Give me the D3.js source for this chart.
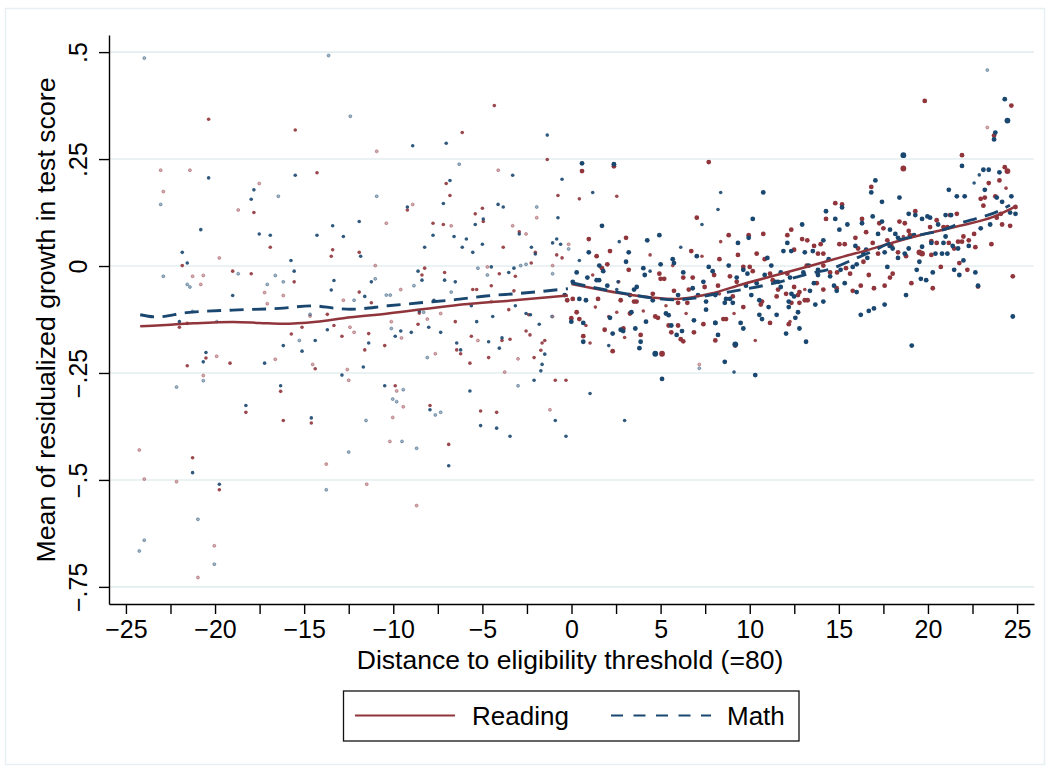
<!DOCTYPE html>
<html>
<head>
<meta charset="utf-8">
<script src="https://cdn.jsdelivr.net/npm/d3@7"></script>
<style>
  html, body { margin: 0; padding: 0; background: #ffffff; }
  svg { display: block; }
  text { font-family: "Liberation Sans", Arial, Helvetica, sans-serif; fill: #000; }
</style>
</head>
<body>
<svg id="chart" width="1050" height="771"></svg>
<script>
// Binned means of residualized test-score growth by distance to the eligibility cutoff.
// Each entry: [distance, mean residualized growth, bin weight (1 = few students ... 4 = many)]
const readingPts = [
  [-20.36,0.343,2],[-15.5,0.318,2],[-23.05,0.224,1],[-21.41,0.224,1],[-14.28,0.218,2],[-22.9,0.174,1],
  [-17.52,0.193,1],[-18.7,0.131,1],[-17.82,0.125,2],[-16.9,0.044,2],[-13.4,0.038,2],[-13.48,0.023,2],
  [-19.76,0.019,1],[-21.84,0.001,2],[-21.26,-0.024,1],[-20.66,-0.022,1],[-20.8,-0.043,1],[-19.01,-0.012,2],
  [-17.97,-0.018,2],[-15.56,-0.037,2],[-17.22,-0.062,1],[-16.17,-0.069,1],[-17.07,-0.088,1],[-14.67,-0.117,1],
  [-13.7,-0.113,2],[-22.0,-0.143,2],[-21.56,-0.134,2],[-15.12,-0.143,2],[-13.33,-0.139,2],[-15.72,-0.159,2],
  [-20.51,-0.215,2],[-19.91,-0.211,1],[-21.56,-0.233,2],[-19.16,-0.227,2],[-16.62,-0.218,1],[-14.52,-0.230,1],
  [-14.38,-0.240,2],[-20.66,-0.256,1],[-16.32,-0.293,2],[-18.27,-0.342,2],[-16.17,-0.361,2],[-14.6,-0.367,2],
  [-24.25,-0.430,1],[-21.26,-0.448,2],[-13.76,-0.463,1],[-23.97,-0.498,1],[-22.16,-0.504,1],[-19.76,-0.523,2],
  [-20.04,-0.654,1],[-20.96,-0.728,1],
  [-4.33,0.375,2],[-6.13,0.312,2],[-10.93,0.268,1],[-1.36,0.249,2],[-4.11,0.224,1],[-7.03,0.193,2],
  [-6.82,0.165,2],[-0.76,0.165,2],[-9.21,0.131,2],[-8.91,0.144,1],[-1.95,0.113,1],[-10.39,0.100,1],
  [-7.77,0.100,2],[-7.19,0.097,2],[-6.75,0.094,1],[-5.4,0.122,2],[-5.0,0.135,2],[-4.95,0.104,2],
  [-3.3,0.094,1],[-11.91,0.032,2],[-2.93,0.080,2],[-2.55,0.075,1],[-3.83,0.044,2],[-2.03,0.032,2],
  [-0.83,0.026,2],[-0.53,0.019,2],[-0.16,0.051,1],[-11.01,0.001,1],[-11.23,-0.086,2],[-12.8,-0.080,1],
  [-11.91,-0.061,2],[-9.58,-0.055,1],[-8.39,-0.021,2],[-8.24,-0.005,2],[-7.12,-0.015,2],[-5.54,-0.055,2],
  [-5.32,-0.055,2],[-4.72,-0.002,1],[-4.5,-0.046,2],[-4.05,-0.018,2],[-3.15,-0.024,2],[-3.23,-0.058,2],
  [-2.26,0.007,2],[-1.06,0.001,1],[-8.54,-0.110,2],[-8.09,-0.124,1],[-7.34,-0.111,1],[-8.61,-0.136,2],
  [-10.11,-0.130,1],[-9.54,-0.168,1],[-10.48,-0.186,2],[-11.38,-0.158,2],[-11.6,-0.196,2],[-12.88,-0.164,2],
  [-12.43,-0.143,1],[-12.2,-0.155,1],[-12.58,-0.242,1],[-12.5,-0.267,1],[-6.52,-0.130,2],[-6.44,-0.196,2],
  [-6.22,-0.205,2],[-7.64,-0.205,1],[-5.62,-0.164,2],[-5.25,-0.174,1],[-4.65,-0.214,2],[-4.5,-0.083,1],
  [-3.9,-0.174,2],[-3.45,-0.171,2],[-5.7,-0.227,2],[-3.75,-0.248,1],[-3.0,-0.217,1],[-3.52,-0.102,2],
  [-2.4,-0.114,2],[-2.55,-0.152,2],[-2.33,-0.161,2],[-2.1,-0.214,2],[-1.5,-0.174,2],[-1.65,-0.180,2],
  [-1.72,-0.197,2],[-1.06,-0.118,1],[-0.91,-0.267,2],[-0.31,-0.267,2],[-9.89,-0.280,2],[-9.81,-0.292,1],
  [-9.44,-0.329,1],[-10.03,-0.354,1],[-7.94,-0.326,2],[-5.1,-0.339,2],[-4.2,-0.342,2],[-1.21,-0.336,1],
  [-10.19,-0.410,1],[-6.89,-0.417,2],[-11.49,-0.510,1],[-8.69,-0.560,1],
  [0.59,0.222,3],[2.38,0.233,3],[7.7,0.243,3],[0.44,0.157,2],[2.54,0.163,2],[7.03,0.113,3],
  [0.97,0.063,3],[3.06,0.066,3],[6.72,0.035,3],[7.32,0.023,2],[2.16,0.035,3],[4.41,0.026,2],
  [1.41,0.023,3],[2.01,0.004,3],[5.68,0.001,2],[8.3,0.016,3],[1.71,-0.005,3],[3.21,-0.009,3],
  [4.93,-0.018,3],[5.0,-0.030,3],[5.2,-0.030,3],[6.27,-0.027,3],[6.8,-0.027,3],[8.0,-0.021,3],
  [1.19,-0.021,2],[2.65,-0.037,2],[-0.24,-0.080,3],[0.07,-0.077,3],[1.49,-0.077,3],[1.34,-0.096,2],
  [2.76,-0.080,3],[3.51,-0.083,3],[3.65,-0.083,3],[4.56,-0.065,3],[5.3,-0.093,2],[5.75,-0.058,3],
  [5.98,-0.086,3],[6.58,-0.055,3],[6.5,-0.086,3],[7.47,-0.049,3],[8.22,-0.046,3],[-0.01,-0.122,3],
  [0.29,-0.108,3],[0.44,-0.124,3],[0.81,-0.139,2],[2.09,-0.118,2],[1.86,-0.149,3],[2.54,-0.108,2],
  [2.91,-0.146,3],[2.98,-0.167,2],[3.28,-0.111,3],[3.88,-0.161,3],[4.03,-0.105,2],[4.7,-0.118,3],
  [4.85,-0.121,3],[5.45,-0.139,3],[5.98,-0.139,3],[6.13,-0.171,3],[6.27,-0.176,3],[5.6,-0.155,3],
  [6.43,-0.111,2],[6.87,-0.155,3],[7.4,-0.136,3],[8.07,-0.174,3],[0.66,-0.164,3],[1.04,-0.180,2],
  [2.31,-0.199,3],[5.08,-0.205,4],[7.17,-0.230,1],
  [8.82,0.072,3],[8.37,0.057,2],[9.94,0.072,3],[10.76,0.075,3],[9.34,0.026,3],[10.39,0.029,3],
  [10.84,0.016,3],[9.64,-0.002,3],[10.0,-0.002,3],[8.89,-0.024,3],[9.27,-0.037,3],[10.17,-0.012,3],
  [11.14,-0.018,3],[11.29,-0.033,3],[11.59,-0.055,3],[12.11,0.072,3],[12.33,0.085,3],[12.49,0.038,3],
  [12.94,0.063,3],[13.23,0.060,3],[13.61,0.047,3],[13.83,0.029,3],[14.13,0.029,3],[13.98,0.051,3],
  [14.28,0.110,3],[14.8,0.147,3],[15.18,0.144,3],[15.03,0.051,3],[15.33,0.051,3],[15.93,0.066,3],
  [16.3,0.110,3],[16.53,0.079,3],[16.08,0.041,3],[16.38,0.010,3],[14.51,-0.015,3],[14.9,-0.015,3],
  [14.13,0.001,3],[13.2,0.001,3],[13.76,-0.040,3],[13.09,-0.055,2],[12.11,-0.018,3],[12.49,-0.049,3],
  [12.79,-0.061,3],[12.04,-0.065,3],[12.71,-0.068,3],[12.34,-0.086,3],[12.79,-0.086,3],[13.09,-0.080,3],
  [13.25,-0.080,3],[14.13,-0.055,3],[14.88,-0.052,3],[15.78,-0.058,3],[16.23,-0.046,3],[15.4,-0.005,3],
  [15.63,-0.018,3],[16.68,-0.021,3],[8.3,-0.065,2],[9.05,-0.071,3],[10.62,-0.090,3],[11.51,-0.071,3],
  [10.69,-0.083,3],[9.64,-0.096,3],[9.12,-0.111,2],[11.14,-0.133,3],[12.26,-0.130,2],[12.19,-0.136,3],
  [8.52,-0.124,3],[8.67,-0.124,3],[9.19,-0.186,3],[10.31,-0.174,2],
  [19.82,0.386,3],[24.68,0.375,3],[23.33,0.324,1],[23.71,0.305,3],[18.62,0.228,4],[21.91,0.259,3],
  [16.82,0.185,3],[24.31,0.231,3],[24.46,0.222,4],[24.01,0.200,3],[23.41,0.194,3],[24.38,0.182,2],
  [22.96,0.157,3],[23.19,0.160,3],[23.11,0.141,3],[23.78,0.163,3],[24.91,0.138,3],[24.61,0.094,3],
  [24.16,0.097,3],[24.09,0.122,3],[23.86,0.113,3],[22.59,0.075,3],[22.66,0.044,3],[23.56,0.051,3],
  [24.76,-0.024,3],[22.81,-0.048,3],[22.21,-0.009,3],[21.76,0.007,3],[22.29,0.060,3],[21.91,0.057,3],
  [21.99,0.069,3],[21.69,0.057,3],[21.47,0.041,3],[20.72,-0.002,3],[21.09,0.091,3],[21.24,0.119,3],
  [21.62,0.122,3],[20.87,0.091,3],[20.49,0.107,3],[20.12,0.091,3],[20.19,0.058,3],[20.49,0.054,3],
  [19.29,0.128,3],[18.4,0.104,3],[18.7,0.100,3],[18.92,0.082,3],[18.62,0.069,2],[17.5,0.088,3],
  [17.27,0.100,3],[17.72,0.060,3],[17.95,0.047,3],[18.32,0.032,3],[16.9,0.054,3],[17.2,0.029,3],
  [18.77,0.023,3],[18.99,0.072,3],[19.52,0.032,4],[19.67,0.029,4],[20.19,0.026,3],[21.17,0.054,3],
  [18.02,-0.018,3],[17.87,-0.027,3],[19.07,-0.040,3],[20.27,-0.052,3],[17.57,-0.046,3],[16.97,-0.052,3]
];

const mathPts = [
  [-23.97,0.486,1],[-13.63,0.492,1],[-20.36,0.206,2],[-15.5,0.212,2],[-17.82,0.178,2],[-17.97,0.156,2],
  [-16.45,0.163,1],[-23.05,0.144,1],[-20.8,0.085,2],[-17.52,0.075,2],[-16.9,0.072,2],[-14.28,0.072,2],
  [-13.4,0.094,2],[-21.84,0.032,2],[-21.56,0.007,2],[-15.74,0.013,2],[-22.9,-0.024,1],[-21.56,-0.043,1],
  [-21.41,-0.049,1],[-18.7,-0.018,1],[-16.62,-0.022,1],[-15.56,-0.012,2],[-16.17,-0.037,1],[-17.07,-0.043,1],
  [-19.01,-0.069,2],[-13.33,-0.034,2],[-13.48,-0.056,2],[-14.67,-0.113,1],[-21.26,-0.106,1],[-22.0,-0.130,2],
  [-19.9,-0.130,1],[-13.7,-0.149,2],[-15.27,-0.174,1],[-16.17,-0.186,2],[-14.38,-0.174,2],[-15.12,-0.199,2],
  [-20.51,-0.202,2],[-20.66,-0.224,2],[-17.22,-0.227,2],[-20.66,-0.268,1],[-22.16,-0.283,1],[-16.32,-0.280,2],
  [-18.27,-0.326,2],[-14.6,-0.355,2],[-21.26,-0.483,2],[-19.76,-0.510,2],[-13.76,-0.523,1],[-20.96,-0.592,1],
  [-23.97,-0.641,1],[-24.25,-0.666,1],[-20.04,-0.697,1],
  [-12.41,0.350,1],[-1.36,0.306,2],[-8.91,0.281,2],[-7.03,0.287,2],[-6.3,0.238,1],[-3.3,0.212,2],
  [-6.82,0.200,2],[-0.53,0.203,2],[-10.93,0.163,1],[-7.19,0.146,2],[-9.21,0.138,2],[-4.12,0.144,2],
  [-3.83,0.138,2],[-1.95,0.138,1],[-11.91,0.104,2],[-4.95,0.110,2],[-5.4,0.097,2],[-0.76,0.113,2],
  [-12.8,0.069,2],[-11.83,0.023,2],[-7.77,0.072,2],[-8.24,0.044,2],[-6.59,0.069,2],[-6.13,0.044,2],
  [-5.9,0.063,2],[-5.54,0.032,2],[-5.0,0.051,2],[-2.93,0.075,2],[-2.25,0.044,2],[-2.03,0.028,2],
  [-1.06,0.054,2],[-0.83,0.063,2],[-0.61,0.051,2],[-0.16,0.040,1],[-11.23,-0.037,2],[-11.01,-0.030,1],
  [-12.2,-0.080,1],[-11.6,-0.071,2],[-10.39,-0.068,1],[-10.17,-0.068,1],[-8.84,-0.046,1],[-8.61,-0.012,2],
  [-8.39,-0.033,2],[-7.12,-0.033,2],[-6.52,-0.037,2],[-6.75,-0.061,1],[-7.72,-0.080,2],[-5.25,-0.005,1],
  [-4.72,-0.021,1],[-4.5,-0.002,2],[-3.52,-0.015,2],[-3.23,-0.005,2],[-2.85,0.001,1],[-2.55,0.004,1],
  [-1.06,-0.018,1],[-8.54,-0.105,2],[-8.3,-0.108,1],[-8.01,-0.143,2],[-8.99,-0.155,2],[-9.58,-0.152,2],
  [-9.89,-0.164,2],[-10.11,-0.146,1],[-11.38,-0.180,2],[-11.68,-0.236,2],[-12.88,-0.255,2],[-7.34,-0.155,2],
  [-6.44,-0.180,2],[-6.22,-0.196,2],[-8.09,-0.214,1],[-5.32,-0.130,2],[-5.62,-0.093,2],[-4.65,-0.177,2],
  [-4.42,-0.118,2],[-3.9,-0.168,2],[-4.05,-0.192,2],[-3.15,-0.093,2],[-2.55,-0.111,2],[-2.3,-0.114,2],
  [-1.81,-0.136,2],[-1.5,-0.206,2],[-1.65,-0.230,2],[-1.72,-0.245,2],[-2.1,-0.267,2],[-3.0,-0.280,1],
  [-1.1,-0.118,1],[-5.7,-0.292,2],[-10.48,-0.280,2],[-9.44,-0.289,1],[-10.03,-0.311,1],[-9.81,-0.317,1],
  [-7.94,-0.336,2],[-7.64,-0.348,1],[-7.34,-0.342,1],[-11.53,-0.361,1],[-5.1,-0.373,2],[-4.2,-0.379,2],
  [-3.45,-0.398,2],[-0.91,-0.361,2],[-0.31,-0.398,2],[-9.51,-0.410,1],[-8.69,-0.426,1],[-12.5,-0.435,1],
  [-6.89,-0.467,2],
  [0.59,0.240,3],[2.38,0.238,3],[1.19,0.172,2],[8.22,0.132,2],[1.71,0.094,3],[7.32,0.097,2],
  [2.68,0.057,2],[4.25,0.060,3],[4.93,0.072,3],[6.13,0.044,2],[7.03,0.023,3],[3.21,0.032,3],
  [0.97,0.032,3],[0.44,0.013,2],[3.06,0.010,3],[5.68,0.016,3],[5.75,0.007,3],[5.0,0.004,3],
  [1.56,0.001,3],[1.78,-0.012,3],[4.03,-0.005,3],[4.41,-0.012,2],[4.11,-0.021,3],[6.27,-0.015,3],
  [7.7,-0.002,3],[7.92,-0.012,3],[0.89,-0.027,3],[0.29,-0.015,3],[1.41,-0.033,3],[1.55,-0.033,3],
  [2.61,-0.037,2],[3.66,-0.049,3],[3.51,-0.055,3],[2.01,-0.046,3],[2.54,-0.055,2],[0.07,-0.037,3],
  [-0.38,-0.068,3],[0.44,-0.077,3],[0.81,-0.080,3],[3.28,-0.068,3],[4.56,-0.080,3],[5.98,-0.068,3],
  [6.8,-0.052,3],[7.1,-0.068,3],[7.4,-0.037,3],[7.55,-0.083,3],[7.55,-0.102,3],[-0.01,-0.130,3],
  [0.66,-0.133,3],[2.16,-0.121,3],[2.31,-0.158,3],[2.76,-0.149,3],[2.9,-0.152,3],[3.36,-0.108,3],
  [3.58,-0.146,3],[3.88,-0.177,3],[3.81,-0.192,3],[4.18,-0.130,3],[5.3,-0.111,3],[5.45,-0.115,3],
  [5.6,-0.139,3],[5.9,-0.161,3],[6.2,-0.152,3],[6.87,-0.127,3],[8.07,-0.133,3],[8.22,-0.161,3],
  [0.66,-0.177,3],[2.09,-0.186,2],[4.7,-0.205,4],[7.17,-0.239,1],[5.08,-0.264,3],[1.04,-0.298,2],
  [2.98,-0.361,2],
  [8.37,0.172,2],[10.76,0.172,3],[10.17,0.110,3],[9.94,0.066,3],[9.34,0.054,3],[8.82,0.001,3],
  [10.99,0.019,3],[9.64,-0.009,3],[9.87,-0.018,3],[9.27,-0.027,3],[9.79,-0.046,3],[10.39,-0.040,3],
  [11.21,0.001,3],[10.84,-0.021,3],[11.74,-0.015,3],[11.45,-0.037,3],[11.59,-0.037,3],[11.74,-0.049,3],
  [11.89,0.035,3],[12.11,0.054,3],[12.33,0.035,3],[12.94,0.097,3],[13.09,0.032,3],[13.54,0.035,3],
  [14.13,0.060,3],[14.28,0.128,3],[15.18,0.137,3],[14.8,0.110,3],[15.03,0.085,3],[15.48,0.097,3],
  [15.93,0.047,3],[16.3,0.100,3],[16.53,0.038,3],[16.6,0.019,3],[14.43,0.016,3],[14.51,-0.024,3],
  [13.83,-0.009,3],[13.31,0.001,3],[13.01,-0.015,3],[13.83,-0.021,3],[13.6,-0.040,3],[13.38,-0.058,3],
  [12.26,-0.027,3],[12.34,-0.065,3],[12.49,-0.071,3],[12.19,-0.083,3],[13.68,-0.090,3],[14.13,-0.083,3],
  [14.88,-0.058,3],[14.73,-0.046,3],[15.33,-0.040,3],[16.0,-0.061,3],[15.1,-0.009,3],[15.78,-0.002,3],
  [16.0,0.004,3],[16.23,-0.114,3],[16.68,-0.105,3],[8.07,-0.068,3],[8.67,-0.077,3],[8.89,-0.077,3],
  [9.05,-0.086,3],[8.6,-0.086,3],[10.09,-0.068,3],[10.54,-0.080,3],[11.06,-0.096,3],[10.54,-0.114,3],
  [10.69,-0.124,3],[12.19,-0.096,3],[11.51,-0.114,3],[12.56,-0.121,3],[12.71,-0.108,3],[12.79,-0.146,3],
  [12.04,-0.158,3],[13.16,-0.177,3],[8.07,-0.133,3],[9.49,-0.133,3],[9.64,-0.146,3],[9.19,-0.183,4],
  [8.6,-0.224,3],[9.12,-0.248,2],[10.31,-0.255,3],
  [24.31,0.390,3],[24.46,0.340,4],[23.33,0.458,1],[23.78,0.312,3],[23.71,0.296,3],[18.62,0.259,4],
  [21.91,0.234,3],[17.05,0.200,3],[16.82,0.172,3],[17.42,0.150,3],[18.4,0.160,3],[21.17,0.178,3],
  [21.62,0.163,3],[22.06,0.163,3],[22.59,0.194,2],[22.88,0.213,2],[23.11,0.225,3],[23.41,0.225,3],
  [24.01,0.219,3],[23.19,0.178,3],[23.86,0.160,3],[24.68,0.163,3],[24.16,0.150,3],[24.91,0.122,3],
  [24.61,0.125,3],[23.49,0.097,3],[22.96,0.088,3],[24.76,-0.118,3],[22.81,-0.046,3],[21.76,-0.021,3],
  [21.47,-0.009,3],[21.99,0.013,3],[22.29,0.047,3],[21.69,0.041,3],[21.39,0.047,3],[21.09,0.029,3],
  [20.79,0.029,3],[20.42,0.029,3],[20.99,0.069,3],[20.99,0.119,3],[21.3,0.119,3],[20.57,0.097,3],
  [20.12,0.113,3],[19.97,0.116,3],[20.19,0.054,3],[19.67,0.110,3],[19.29,0.119,3],[18.92,0.122,3],
  [19.22,0.072,3],[17.87,0.085,3],[18.17,0.075,3],[17.42,0.104,3],[16.9,0.116,3],[17.2,0.075,3],
  [18.32,0.066,3],[17.85,0.047,3],[18.02,0.041,3],[17.57,0.032,3],[18.32,0.019,3],[18.7,0.029,3],
  [18.92,0.041,3],[19.52,0.010,3],[19.67,0.045,3],[20.87,0.054,3],[16.38,0.029,3],[17.72,-0.002,3],
  [19.37,-0.009,3],[20.27,-0.015,3],[19.6,-0.030,3],[19.9,-0.033,3],[18.77,-0.068,3],[17.57,-0.090,3],
  [16.97,-0.099,3],[19.09,-0.186,3],[22.66,-0.015,3]
];

// Local fits, estimated separately below and above the cutoff.
const readingFitBelow = [
  [-24.2,-0.141],[-22.5,-0.137],[-21.2,-0.134],[-19.0,-0.131],[-17.5,-0.133],[-16.2,-0.135],
  [-14.3,-0.130],[-12.8,-0.122],[-10.3,-0.111],[-6.6,-0.092],[-2.9,-0.079],[-0.2,-0.069]
];
const readingFitAbove = [
  [0,-0.042],[1.2,-0.052],[3.1,-0.066],[4.6,-0.074],[5.75,-0.077],[6.9,-0.072],[7.77,-0.065],
  [9.64,-0.042],[11.51,-0.021],[13.38,0.000],[15.25,0.022],[16.75,0.039],[18.05,0.055],
  [19.92,0.076],[21.79,0.094],[23.66,0.115],[24.9,0.139]
];
const mathFitBelow = [
  [-24.2,-0.114],[-23.3,-0.119],[-21.6,-0.109],[-19.0,-0.103],[-16.4,-0.099],[-14.5,-0.093],
  [-13.2,-0.099],[-12.4,-0.101],[-10.3,-0.093],[-8.5,-0.086],[-6.6,-0.079],[-4.8,-0.070],
  [-2.9,-0.064],[-0.2,-0.053]
];
const mathFitAbove = [
  [0,-0.039],[1.2,-0.050],[3.1,-0.065],[4.6,-0.075],[5.75,-0.079],[6.9,-0.075],[7.77,-0.068],
  [9.6,-0.055],[11.5,-0.039],[13.4,-0.017],[14.6,-0.006],[15.9,0.017],[16.7,0.031],[18.05,0.057],
  [19.5,0.072],[21.1,0.088],[21.8,0.100],[22.7,0.111],[23.66,0.123],[24.6,0.142]
];

const xTicks = [-25,-22.5,-20,-17.5,-15,-12.5,-10,-7.5,-5,-2.5,0,2.5,5,7.5,10,12.5,15,17.5,20,22.5,25];
const yTicks = [0.5, 0.25, 0, -0.25, -0.5, -0.75];
const yTickLabels = [".5", ".25", "0", "\u2212.25", "\u2212.5", "\u2212.75"];
const seriesNames = ["Reading", "Math"];

const RED = "#90353b";
const BLUE = "#1a476f";

const svg = d3.select("#chart");

// outer graph-region outline
svg.append("rect")
  .attr("x", 5.5).attr("y", 8.5).attr("width", 1039).attr("height", 756)
  .attr("fill", "#ffffff").attr("stroke", "#e6eff1").attr("stroke-width", 1.5);

const x = d3.scaleLinear().domain([-25.95, 25.95]).range([109, 1034]);
const y = d3.scaleLinear().domain([-0.79, 0.54]).range([604, 35]);

// horizontal grid
svg.append("g").selectAll("line").data(yTicks).join("line")
  .attr("x1", 110).attr("x2", 1034)
  .attr("y1", d => y(d)).attr("y2", d => y(d))
  .attr("stroke", "#e4eef0").attr("stroke-width", 1.6);

const rScale = d3.scaleOrdinal().domain([1,2,3,4]).range([1.5, 1.8, 2.4, 2.9]);
const opScale = d3.scaleOrdinal().domain([1,2,3,4]).range([0.4, 0.9, 1, 1]);

function drawPoints(data, color) {
  svg.append("g").selectAll("circle").data(data).join("circle")
    .attr("cx", d => x(d[0])).attr("cy", d => y(d[1]))
    .attr("r", d => rScale(d[2]))
    .attr("fill", color).attr("fill-opacity", d => opScale(d[2]))
    .attr("stroke", color)
    .attr("stroke-opacity", d => d[2] === 1 ? 0.6 : 0)
    .attr("stroke-width", 0.7);
}
drawPoints(readingPts, RED);
drawPoints(mathPts, BLUE);

const line = d3.line().x(d => x(d[0])).y(d => y(d[1])).curve(d3.curveMonotoneX);

[readingFitBelow, readingFitAbove].forEach(seg => {
  svg.append("path").datum(seg).attr("d", line)
    .attr("fill", "none").attr("stroke", RED).attr("stroke-width", 2.5);
});
[mathFitBelow, mathFitAbove].forEach(seg => {
  svg.append("path").datum(seg).attr("d", line)
    .attr("fill", "none").attr("stroke", BLUE).attr("stroke-width", 2.9)
    .attr("stroke-dasharray", "14,8.5");
});

// axes
const fmtX = d => (d % 5 === 0) ? d3.format("d")(d) : "";
const xAxis = svg.append("g").attr("transform", "translate(0,604)")
  .call(d3.axisBottom(x).tickValues(xTicks).tickSize(10).tickSizeOuter(0).tickFormat(fmtX));
xAxis.selectAll("text").attr("y", 34).attr("dy", 0).attr("font-size", 25)
  .style("font-family", "'Liberation Sans', Arial, sans-serif").attr("fill", "#000");

const yAxis = svg.append("g").attr("transform", "translate(109,0)")
  .call(d3.axisLeft(y).tickValues(yTicks).tickSize(10).tickSizeOuter(0)
    .tickFormat((d, i) => yTickLabels[i]));
yAxis.selectAll("text")
  .attr("x", null).attr("dy", null)
  .attr("text-anchor", "middle")
  .attr("transform", "translate(-22,0) rotate(-90)")
  .attr("font-size", 25)
  .style("font-family", "'Liberation Sans', Arial, sans-serif").attr("fill", "#000");

[xAxis, yAxis].forEach(a => {
  a.select(".domain").attr("stroke", "#000").attr("stroke-width", 1.4);
  a.selectAll(".tick line").attr("stroke", "#000").attr("stroke-width", 1.4);
});

// axis titles
svg.append("text")
  .attr("x", 570).attr("y", 669)
  .attr("text-anchor", "middle").attr("font-size", 26.5)
  .text("Distance to eligibility threshold (=80)");

svg.append("text")
  .attr("transform", "translate(55,320) rotate(-90)")
  .attr("text-anchor", "middle").attr("font-size", 26.7)
  .text("Mean of residualized growth in test score");

// legend
const lg = svg.append("g");
lg.append("rect").attr("x", 343.5).attr("y", 691).attr("width", 455.5).attr("height", 50)
  .attr("fill", "#fff").attr("stroke", "#111").attr("stroke-width", 1.3);
lg.append("line").attr("x1", 355).attr("x2", 455).attr("y1", 715.5).attr("y2", 715.5)
  .attr("stroke", RED).attr("stroke-width", 2);
lg.append("text").attr("x", 472).attr("y", 725).attr("font-size", 26).text(seriesNames[0]);
lg.append("line").attr("x1", 611).attr("x2", 711).attr("y1", 715.5).attr("y2", 715.5)
  .attr("stroke", BLUE).attr("stroke-width", 2).attr("stroke-dasharray", "12,10.5");
lg.append("text").attr("x", 727).attr("y", 725).attr("font-size", 26).text(seriesNames[1]);
</script>
</body>
</html>
